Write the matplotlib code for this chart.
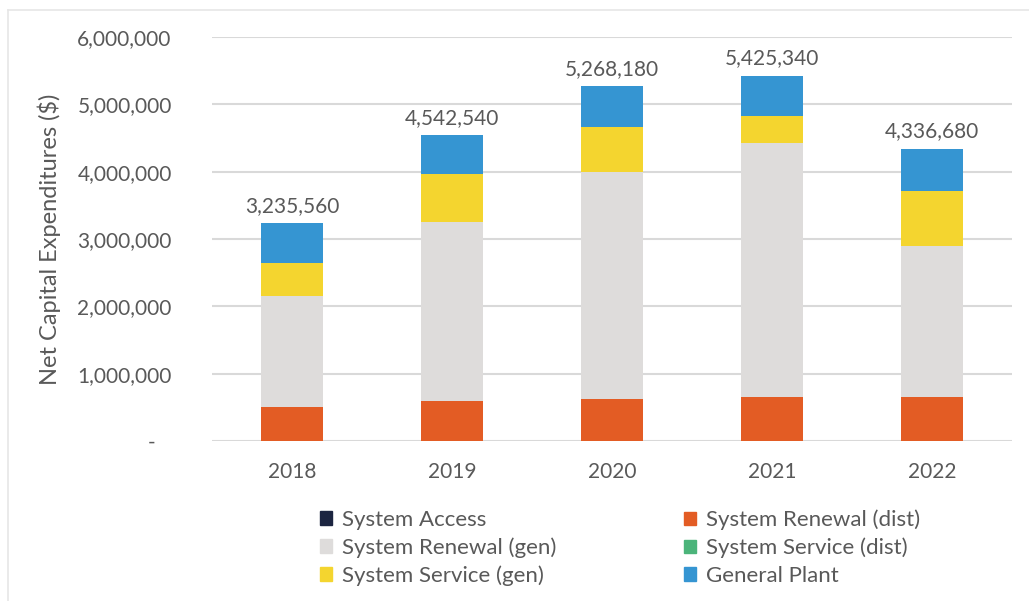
import matplotlib
matplotlib.use("Agg")
from matplotlib import pyplot as plt
from matplotlib.patches import Patch
from matplotlib.lines import Line2D

# Capital expenditure by category, in dollars
years = ["2018", "2019", "2020", "2021", "2022"]
system_access = [0, 0, 0, 0, 0]
renewal_dist = [510000, 600000, 620000, 660000, 650000]
renewal_gen = [1650000, 2650000, 3370000, 3770000, 2240000]
service_dist = [0, 0, 0, 0, 0]
service_gen = [490000, 720000, 680000, 390000, 830000]
general_plant = [585560, 572540, 598180, 605340, 616680]
totals = [3235560, 4542540, 5268180, 5425340, 4336680]

series = [
    ("System Access", system_access, "#1c2541"),
    ("System Renewal (dist)", renewal_dist, "#e35c24"),
    ("System Renewal (gen)", renewal_gen, "#dedcdb"),
    ("System Service (dist)", service_dist, "#4bb47a"),
    ("System Service (gen)", service_gen, "#f4d52f"),
    ("General Plant", general_plant, "#3595d2"),
]

txt = "#595959"
grid = "#d9d9d9"
plt.rcParams["font.family"] = ["Lato", "DejaVu Sans"]

fig = plt.figure(figsize=(10.29, 6.01), dpi=100)
ax = fig.add_axes([212 / 1029, 160 / 601, 800 / 1029, 404 / 601])

x = list(range(len(years)))
bottom = [0] * len(years)
for name, vals, col in series:
    ax.bar(x, vals, 0.39, bottom=bottom, color=col, label=name, zorder=3)
    bottom = [b + v for b, v in zip(bottom, vals)]

for xi, t in zip(x, totals):
    ax.text(xi, t + 110000, f"{t:,}", ha="center", va="bottom",
            fontsize=15, color=txt)

ax.set_xlim(-0.5, 4.5)
ax.set_ylim(0, 6000000)
ax.set_yticks(range(0, 6000001, 1000000))
ax.set_yticklabels(["-   " if v == 0 else f"{v:,}" for v in range(0, 6000001, 1000000)])
ax.set_xticks(x)
ax.set_xticklabels(years)
ax.tick_params(length=0, labelsize=15, colors=txt)
ax.tick_params(axis="y", pad=29)
ax.tick_params(axis="x", pad=15)
ax.yaxis.grid(True, color=grid, lw=1.5, zorder=0)
for s in ax.spines.values():
    s.set_visible(False)
ax.set_ylabel("Net Capital Expenditures ($)", fontsize=17, color=txt, labelpad=12)

# two legend columns placed by hand
names = {n: (c) for n, v, c in series}
left = ["System Access", "System Renewal (gen)", "System Service (gen)"]
right = ["System Renewal (dist)", "System Service (dist)", "General Plant"]
for cols, xpos in ((left, 311 / 1029), (right, 675 / 1029)):
    hs = [Patch(color=names[n]) for n in cols]
    lg = fig.legend(hs, cols, loc="upper left", bbox_to_anchor=(xpos, 1 - 501 / 601),
                    frameon=False, fontsize=16, handlelength=0.55, handleheight=0.55,
                    handletextpad=0.45, labelspacing=0.33, borderaxespad=0)
    for t in lg.get_texts():
        t.set_color(txt)

# thin frame along the top and left edge
fig.add_artist(Line2D([8 / 1029, 1], [1 - 10 / 601] * 2, color="#e6e6e6", lw=1.2))
fig.add_artist(Line2D([8 / 1029] * 2, [0, 1 - 10 / 601], color="#e6e6e6", lw=1.2))

fig.savefig("out.png", dpi=100)
